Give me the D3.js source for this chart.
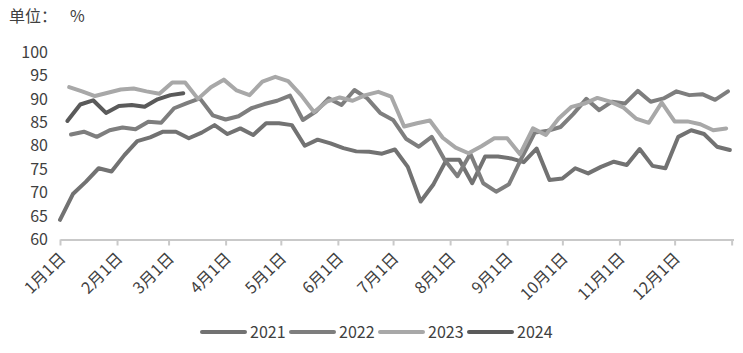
<!DOCTYPE html>
<html>
<head>
<meta charset="utf-8">
<script src="https://d3js.org/d3.v7.min.js"></script>
<style>
  body { margin: 0; background: #fff; }
  text { font-family: "Noto Sans CJK SC", "Noto Sans", sans-serif; fill: #404040; }
</style>
</head>
<body>
<div id="chart"></div>
<script>
  // weekly readings for each year (%)
  var v2021 = [64.2, 69.7, 72.3, 75.2, 74.5, 78.0, 81.0, 81.8, 83.0, 83.0,
               81.6, 82.8, 84.4, 82.5, 83.7, 82.3, 84.8, 84.8, 84.4, 80.0,
               81.3, 80.5, 79.5, 78.8, 78.7, 78.3, 79.2, 75.5, 68.1, 71.8,
               77.0, 77.0, 72.0, 77.7, 77.7, 77.3, 76.5, 79.4, 72.7, 73.0,
               75.2, 74.1, 75.5, 76.6, 75.9, 79.3, 75.7, 75.2, 81.9, 83.3,
               82.5, 79.8, 79.1];
  var v2022 = [82.4, 83.0, 81.9, 83.3, 83.9, 83.5, 85.1, 84.9, 88.0, 89.1,
               90.1, 86.5, 85.6, 86.3, 88.0, 88.9, 89.6, 90.7, 85.5, 87.3,
               90.1, 88.7, 91.9, 90.1, 87.0, 85.5, 81.5, 79.8, 81.9, 77.0,
               73.5, 78.3, 72.0, 70.2, 71.8, 77.5, 82.8, 83.2, 84.0, 86.8,
               90.0, 87.6, 89.4, 89.0, 91.7, 89.4, 90.1, 91.6, 90.8, 91.0,
               89.8, 91.6];
  var v2023 = [92.5, 91.6, 90.6, 91.3, 92.0, 92.2, 91.6, 91.1, 93.5, 93.5,
               90.0, 92.5, 94.1, 91.8, 90.8, 93.7, 94.7, 93.8, 90.8, 87.2,
               89.4, 90.3, 89.6, 90.8, 91.5, 90.5, 84.1, 84.8, 85.4, 81.7,
               79.6, 78.4, 79.9, 81.6, 81.6, 78.2, 83.7, 82.3, 85.8, 88.3,
               89.0, 90.2, 89.4, 88.2, 85.8, 84.9, 89.2, 85.2, 85.2, 84.6,
               83.3, 83.7];
  var v2024 = [85.3, 88.8, 89.7, 87.0, 88.5, 88.7, 88.3, 89.9, 90.8, 91.2];

  var years = ["2021", "2022", "2023", "2024"];
  var firstWeek = ["01-01", "01-07", "01-06", "01-05"];   // first reading of each year (month-day)
  var monthLabels = ["1月1日", "2月1日", "3月1日", "4月1日", "5月1日", "6月1日",
                     "7月1日", "8月1日", "9月1日", "10月1日", "11月1日", "12月1日"];
  var yTicks = [60, 65, 70, 75, 80, 85, 90, 95, 100];

  var colors = ["#727272", "#7e7e7e", "#a8a8a8", "#5a5a5a"];
  var allValues = [v2021, v2022, v2023, v2024];

  var W = 743, H = 353;
  var svg = d3.select("#chart").append("svg")
      .attr("width", W)
      .attr("height", H);

  // every year is laid on the same calendar
  var baseYear = 2023;
  var parseMD = d3.timeParse("%Y-%m-%d");

  var x = d3.scaleTime()
      .domain([new Date(baseYear, 0, 1), new Date(baseYear + 1, 0, 2)])
      .range([60, 733.5]);
  var y = d3.scaleLinear().domain([60, 100]).range([239.5, 52]);

  var series = years.map(function(yr, i) {
    var start = parseMD(baseYear + "-" + firstWeek[i]);
    return {
      year: yr,
      color: colors[i],
      points: allValues[i].map(function(v, k) {
        return {date: d3.timeDay.offset(start, 7 * k), value: v};
      })
    };
  });

  // title
  svg.append("text").attr("x", 9).attr("y", 22).style("font-size", "16px").text("单位：");
  svg.append("text").attr("x", 70).attr("y", 22).style("font-size", "16px").text("%");

  // y axis labels only
  var yAxis = svg.append("g")
      .attr("transform", "translate(48,0)")
      .call(d3.axisLeft(y).tickValues(yTicks).tickSize(0).tickPadding(0));
  yAxis.select(".domain").remove();
  yAxis.selectAll("text")
      .style("font-size", "16px")
      .style("font-family", '"Noto Sans CJK SC", sans-serif')
      .attr("fill", "#404040");

  // x axis
  var tickDates = d3.range(12).map(function(m) { return new Date(baseYear, m, 1); });
  tickDates.push(new Date(baseYear + 1, 0, 1));
  var xAxis = svg.append("g")
      .attr("transform", "translate(0," + y(60) + ")")
      .call(d3.axisBottom(x)
        .tickValues(tickDates)
        .tickSize(6)
        .tickSizeOuter(0)
        .tickFormat(function(d, i) { return monthLabels[i] || ""; }));
  xAxis.select(".domain").attr("stroke", "#c9c9c9").attr("stroke-width", 2);
  xAxis.selectAll(".tick line").attr("stroke", "#c9c9c9").attr("stroke-width", 2);
  xAxis.selectAll(".tick text")
      .attr("x", 0)
      .attr("y", 0)
      .attr("dy", "0.35em")
      .attr("transform", "translate(2,16) rotate(-45)")
      .style("text-anchor", "end")
      .style("font-size", "16px")
      .style("font-family", '"Noto Sans CJK SC", sans-serif')
      .attr("fill", "#404040");

  // lines
  var line = d3.line()
      .x(function(d) { return x(d.date); })
      .y(function(d) { return y(d.value); });

  svg.selectAll("path.series")
      .data(series)
    .enter().append("path")
      .attr("class", "series")
      .attr("d", function(d) { return line(d.points); })
      .attr("fill", "none")
      .attr("stroke", function(d) { return d.color; })
      .attr("stroke-width", 4)
      .attr("stroke-linejoin", "round")
      .attr("stroke-linecap", "round");

  // legend
  var legend = svg.selectAll("g.legend")
      .data(series)
    .enter().append("g")
      .attr("class", "legend")
      .attr("transform", function(d, i) { return "translate(" + (202 + i * 89) + ",332)"; });

  legend.append("line")
      .attr("x1", 0).attr("x2", 43)
      .attr("stroke", function(d) { return d.color; })
      .attr("stroke-width", 4)
      .attr("stroke-linecap", "round");

  legend.append("text")
      .attr("x", 48)
      .attr("dy", "0.35em")
      .style("font-size", "16px")
      .text(function(d) { return d.year; });
</script>
</body>
</html>
